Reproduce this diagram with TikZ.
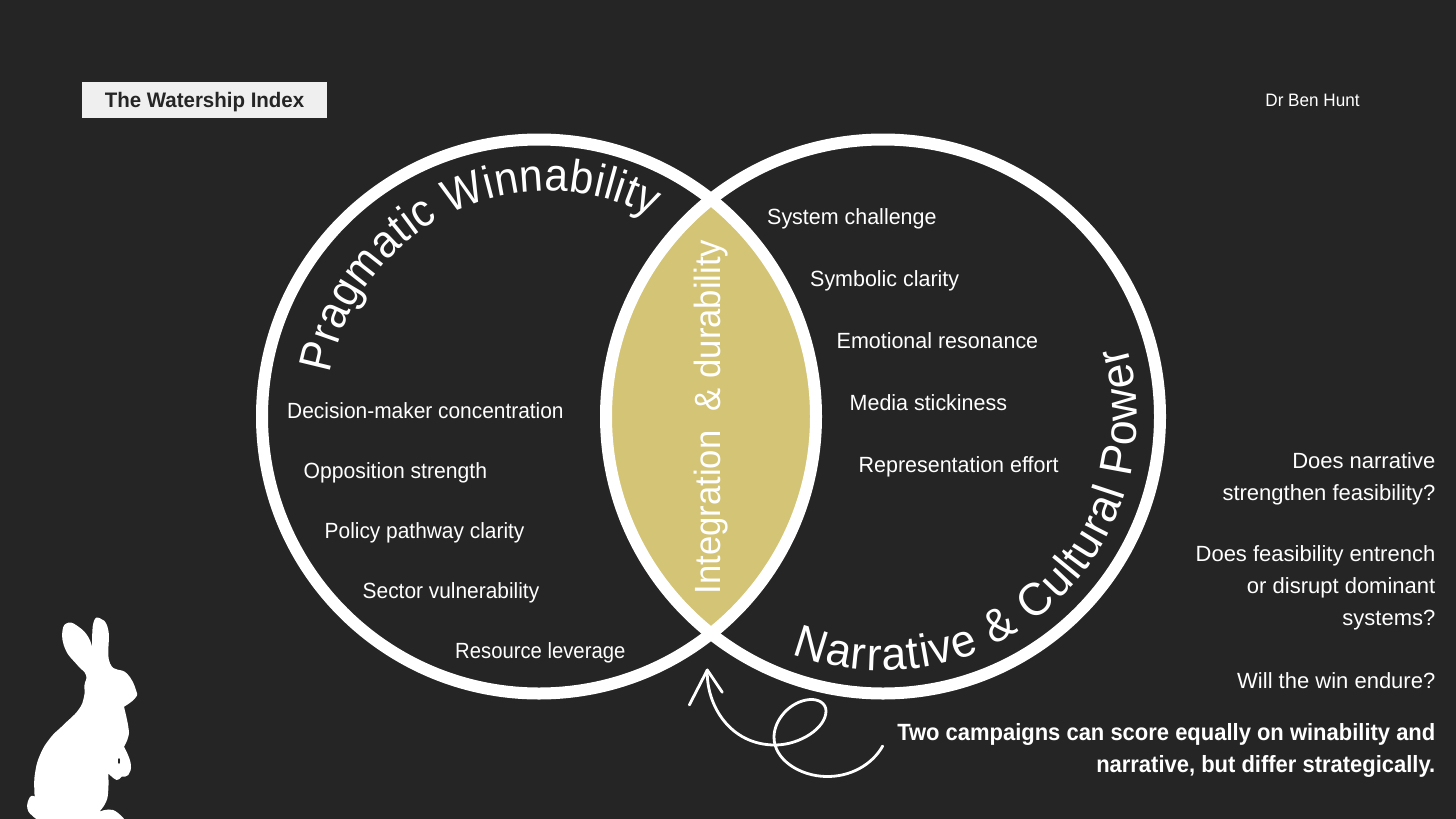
\documentclass[tikz,border=0pt]{standalone}
\usepackage{fontspec}
\setmainfont{Liberation Sans}
\newfontfamily\itemfont[FakeStretch=0.95]{Liberation Sans}
\newfontfamily\itemwidefont[FakeStretch=0.975]{Liberation Sans}
\newfontfamily\headfont[FakeStretch=0.92]{Liberation Sans}
\newfontfamily\headwidefont[FakeStretch=0.97]{Liberation Sans}
\newfontfamily\boldfont[FakeStretch=0.935,UprightFont={* Bold}]{Liberation Sans}
\newfontfamily\titlefont[FakeStretch=0.975,UprightFont={* Bold}]{Liberation Sans}
\usetikzlibrary{decorations.text}
\definecolor{bgdark}{HTML}{252525}
\definecolor{lensgold}{HTML}{D4C476}
\definecolor{tagfill}{HTML}{EFEFEF}
\newcommand{\fs}[1]{\fontsize{#1}{#1}\selectfont}
\tikzset{
  x=1pt,y=-1pt,
  ring/.style={draw=white,line width=12pt},
  item/.style={text=white,anchor=base west,inner sep=0pt,font=\itemfont\fs{22}},
  itemwide/.style={item,font=\itemwidefont\fs{22}},
  sidenote/.style={text=white,anchor=east,align=right,inner sep=0pt,font={\fontsize{22}{32}\selectfont}},
  swirl/.style={draw=white,line width=2.8pt,line cap=round,line join=round},
  arctext/.style={decorate,decoration={text along path,text align=fit to path,text color=white}},
}
\begin{document}
\begin{tikzpicture}
\useasboundingbox (0,0) rectangle (1456,819);
\fill[bgdark] (0,0) rectangle (1456,819);
\coordinate (cl) at (539,416.5);
\coordinate (cr) at (883,416.5);
\coordinate (hl) at (548,412);
% lens
\begin{scope}
\clip (cl) circle[radius=277pt];
\fill[lensgold] (cr) circle[radius=277pt];
\end{scope}
\draw[ring] (cl) circle[radius=277pt];
\draw[ring] (cr) circle[radius=277pt];
% title
\node[fill=tagfill,minimum width=245pt,minimum height=36pt,inner sep=0pt,text height=15.5pt,text depth=0pt,font=\titlefont\fs{21},text=bgdark] (title) at (204.5,100) {The Watership Index};
\node[text=white,inner sep=0pt,font=\itemfont\fs{18}] (author) at (1312.5,100.5) {Dr Ben Hunt};
% arc headings
\path[arctext,decoration={text={|\headfont\fs{46}|Pragmatic Winnability}}]
  ([shift={(170:221pt)}]hl) arc[start angle=170,end angle=62,radius=221pt];
\path[arctext,decoration={text={|\headwidefont\fs{46}|Narrative {\&} Cultural Power}}]
  ([shift={(249:254pt)}]cr) arc[start angle=249,end angle=376,radius=254pt];
% lens text
\node[text=white,rotate=90,inner sep=0pt,font=\itemfont\fs{36.5}] (lens) at (711,417) {Integration\ \ \& durability};
% left items
\node[item] (l1) at (287,418) {Decision-maker concentration};
\node[item] (l2) at (303.5,478) {\scalebox{1.012}[1]{Opposition strength}};
\node[item] (l3) at (324.5,538) {Policy pathway clarity};
\node[item] (l4) at (362.5,598) {Sector vulnerability};
\node[item] (l5) at (455,658) {\scalebox{.97}[1]{Resource leverage}};
% right items
\node[itemwide] (r1) at (767,224) {System challenge};
\node[itemwide] (r2) at (810,286) {Symbolic clarity};
\node[itemwide] (r3) at (836.5,348) {Emotional resonance};
\node[itemwide] (r4) at (849.5,410) {Media stickiness};
\node[itemwide] (r5) at (858.5,472) {Representation effort};
% side notes
\node[sidenote] (q1) at (1435.5,478.5) {Does narrative\\strengthen feasibility?};
\node[sidenote] (q2) at (1435.5,588) {Does feasibility entrench\\or disrupt dominant\\systems?};
\node[sidenote] (q3) at (1435.5,680.5) {Will the win endure?};
\node[sidenote,font={\boldfont\fontsize{23.5}{32}\selectfont}] (q4) at (1435.5,750.5) {Two campaigns can score equally on winability and\\narrative, but differ strategically.};
% swirl arrow
\coordinate (swirlend) at (882.7,746);
\coordinate (swirltip) at (707.3,670);
\draw[swirl] (swirltip) .. controls (706,705) and (730,745) .. (775,745)
  .. controls (800,745) and (826,728) .. (826,711)
  .. controls (826,703) and (818,699) .. (810,699.5)
  .. controls (790,701) and (774,720) .. (774,737)
  .. controls (774,760) and (800,776) .. (826,776.5)
  .. controls (850,777) and (872,765) .. (swirlend);
\draw[swirl] (689.3,705) -- (swirltip) -- (722.3,692.3);
% rabbit
\fill[white]
  plot[smooth,tension=.8] coordinates {(92.3,648) (88.3,637) (79.3,627.3) (68.3,622.7) (62.3,631.7) (65.7,650) (77.3,665) (86,675) (84.5,685) (84,696.7) (78.3,710) (63.3,725) (50,738.3) (40,755) (35,773.3) (34.3,790) (35,796.7)}
  -- plot[smooth,tension=.8] coordinates {(35,796.7) (30,797) (27.3,808.3) (33.3,816.7) (38.3,819.5)}
  -- (38.3,820) -- (125,820)
  -- plot[smooth,tension=.8] coordinates {(125,820) (113,810) (99.3,811.7)}
  -- plot[smooth,tension=.8] coordinates {(99.3,811.7) (106,802) (108.3,790) (108.3,773.3)}
  -- plot[smooth,tension=.8] coordinates {(108.3,773.3) (116.7,780) (121.7,776.7) (128.3,775) (130.7,763.3) (124,746.7)}
  -- plot[smooth,tension=.8] coordinates {(124,746.7) (128.3,736.7) (128.3,726.7) (124,706.7)}
  -- plot[smooth,tension=.8] coordinates {(124,706.7) (135,698.3) (136,690) (126.7,673.3) (110,663.3) (108.3,630) (100,618.3) (93.3,623.3) (92.3,648)}
  -- cycle;
\fill[bgdark] (119,761) ellipse[x radius=1pt,y radius=3pt];
\end{tikzpicture}
\end{document}
